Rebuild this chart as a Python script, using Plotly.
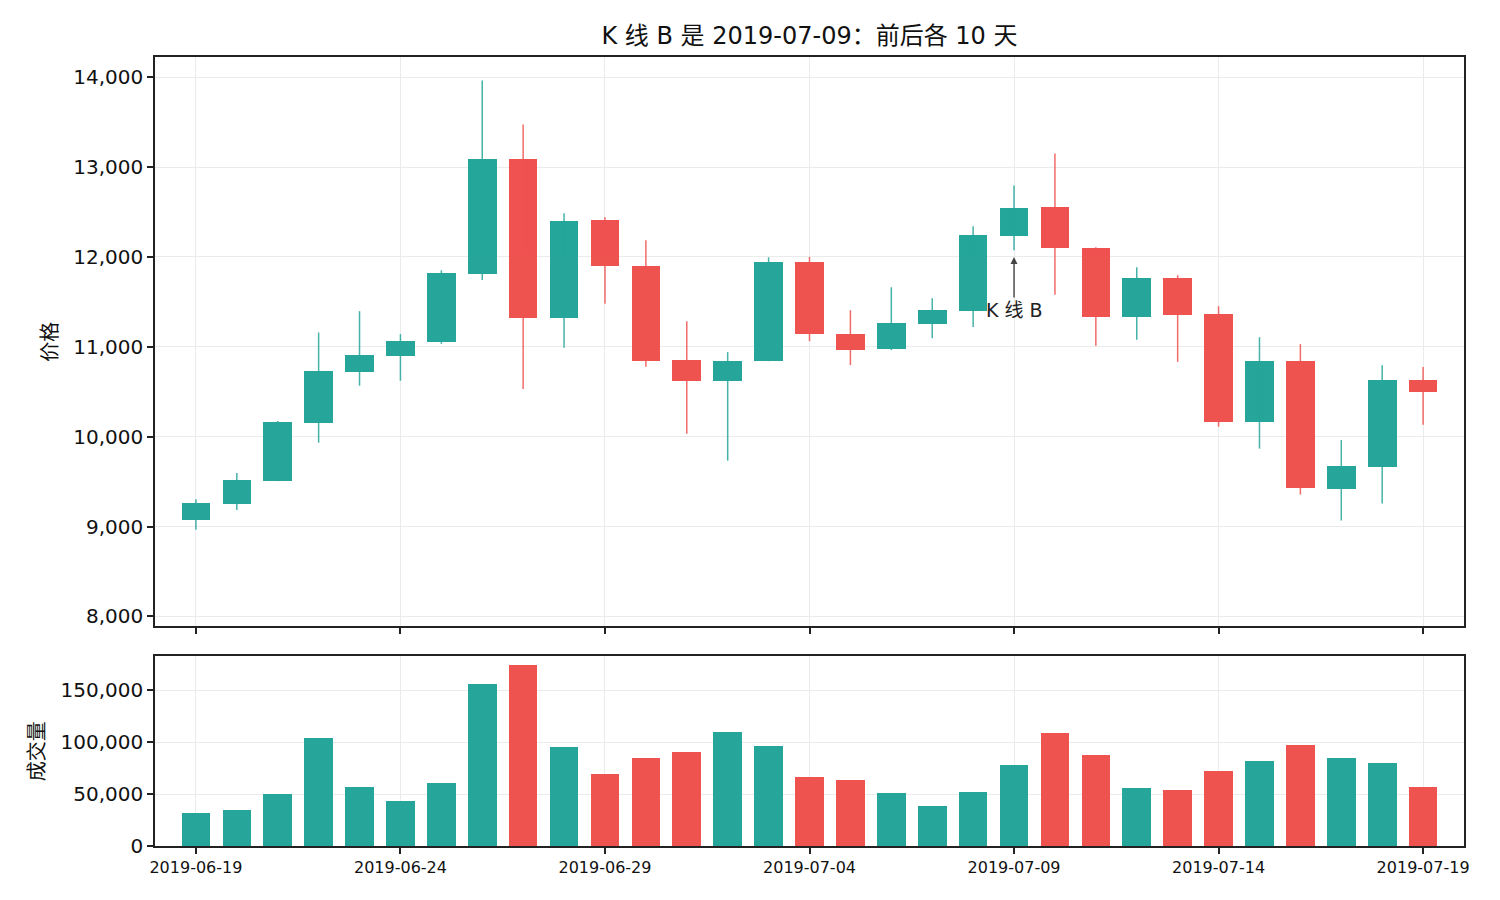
import pandas as pd
import plotly.graph_objects as go
from plotly.subplots import make_subplots

# daily OHLC + volume, 2019-06-19 .. 2019-07-19
dates = pd.date_range("2019-06-19", "2019-07-19", freq="D")
opens = [9074, 9252, 9511, 10156, 10722, 10900, 11056, 11811, 13093, 11322,
         12407, 11900, 10848, 10622, 10844, 11941, 11148, 10970, 11256, 11404,
         12237, 12552, 12104, 11333, 11763, 11363, 10167, 10841, 9422, 9667, 10630]
highs = [9304, 9596, 10174, 11159, 11396, 11141, 11852, 13963, 13474, 12485,
         12441, 12185, 11285, 10941, 11996, 12000, 11407, 11663, 11541, 12341,
         12796, 13152, 12107, 11885, 11796, 11452, 11107, 11030, 9963, 10796, 10774]
lows = [8963, 9185, 9505, 9933, 10567, 10622, 11033, 11744, 10530, 10989,
        11478, 10778, 10033, 9733, 10840, 11063, 10796, 10963, 11096, 11219,
        12074, 11578, 11011, 11078, 10833, 10111, 9867, 9356, 9067, 9256, 10133]
closes = [9259, 9519, 10163, 10730, 10907, 11063, 11819, 13093, 11322, 12396,
          11896, 10844, 10622, 10841, 11941, 11141, 10963, 11263, 11407, 12241,
          12541, 12100, 11333, 11763, 11356, 10167, 10841, 9433, 9674, 10630, 10500]
volumes = [31470, 34360, 49770, 103720, 56520, 43030, 60370, 155740, 174050, 95050,
           69040, 84450, 90230, 109500, 96010, 66150, 63260, 50740, 38210, 51700,
           77710, 108540, 87340, 55550, 53630, 71930, 81560, 96980, 84450, 79640, 56520]

UP = "#26a69a"
DOWN = "#ef5350"
DAY_MS = 86400000
FONT = "DejaVu Sans, Noto Sans CJK SC, sans-serif"

df = pd.DataFrame({"Date": dates, "Open": opens, "High": highs, "Low": lows,
                   "Close": closes, "Volume": volumes})
df["up"] = df["Close"] >= df["Open"]
df["color"] = df["up"].map({True: UP, False: DOWN})

fig = make_subplots(rows=2, cols=1, shared_xaxes=True,
                    row_heights=[0.75, 0.25], vertical_spacing=0.038)

# wicks
for is_up, col in [(True, UP), (False, DOWN)]:
    sub = df[df["up"] == is_up]
    xs, ys = [], []
    for _, r in sub.iterrows():
        xs += [r["Date"], r["Date"], None]
        ys += [r["Low"], r["High"], None]
    fig.add_trace(go.Scatter(x=xs, y=ys, mode="lines",
                             line=dict(color=col, width=1.5),
                             opacity=0.85, showlegend=False, hoverinfo="skip"),
                  row=1, col=1)

# bodies
body_base = df[["Open", "Close"]].min(axis=1)
body_h = (df["Close"] - df["Open"]).abs()
fig.add_trace(go.Bar(x=df["Date"], y=body_h, base=body_base,
                     marker=dict(color=df["color"], line=dict(width=0)),
                     width=0.7 * DAY_MS, showlegend=False),
              row=1, col=1)

# volume
fig.add_trace(go.Bar(x=df["Date"], y=df["Volume"],
                     marker=dict(color=df["color"], line=dict(width=0)),
                     width=0.7 * DAY_MS, showlegend=False),
              row=2, col=1)

fig.add_annotation(x="2019-07-09", y=12000, ax="2019-07-09", ay=11410,
                   axref="x", ayref="y", xref="x", yref="y",
                   text="K 线 B", showarrow=True, arrowhead=2, arrowsize=1,
                   arrowwidth=1.4, arrowcolor="#444", standoff=0,
                   font=dict(size=19, color="#222"))

axis_style = dict(showline=True, linecolor="#222", linewidth=1.6, mirror=True,
                  ticks="outside", tickcolor="#222", ticklen=6, tickwidth=1.5,
                  showgrid=True, gridcolor="#ebebeb", gridwidth=1, zeroline=False)

xr = [pd.Timestamp("2019-06-18"), pd.Timestamp("2019-07-20")]
fig.update_xaxes(range=xr, dtick=5 * DAY_MS, tick0="2019-06-19",
                 tickformat="%Y-%m-%d", tickfont=dict(size=16), **axis_style)
fig.update_xaxes(showticklabels=False, row=1, col=1)

fig.update_yaxes(range=[7890, 14225], dtick=1000, tickformat=",",
                 tickfont=dict(size=20), title=dict(text="价格", standoff=10, font=dict(size=20)),
                 row=1, col=1, **axis_style)
fig.update_yaxes(range=[0, 182750], dtick=50000, tickformat=",",
                 tickfont=dict(size=20), title=dict(text="成交量", standoff=10, font=dict(size=20)),
                 row=2, col=1, **axis_style)

fig.update_layout(
    width=1500, height=900,
    title=dict(text="K 线 B 是 2019-07-09：前后各 10 天", xref="paper", x=0.5,
               xanchor="center", y=0.969, yanchor="middle",
               font=dict(size=24, color="#111")),
    font=dict(family=FONT, color="#111"),
    plot_bgcolor="white", paper_bgcolor="white",
    margin=dict(l=147, r=44, t=49, b=62),
    bargap=0, showlegend=False,
)

fig.write_html("out.html")
